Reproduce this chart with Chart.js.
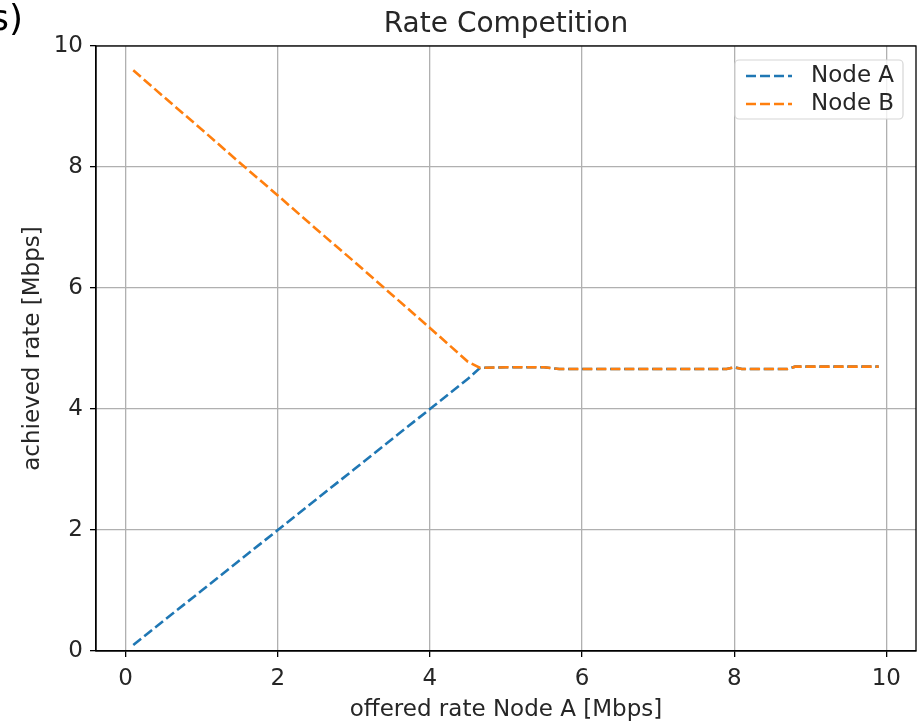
<!DOCTYPE html>
<html><head><meta charset="utf-8">
<script src="https://cdn.jsdelivr.net/npm/chart.js@4/dist/chart.umd.min.js"></script>
<style>html,body{margin:0;padding:0;background:#fff;overflow:hidden}</style>
</head><body>
<canvas id="c" width="921" height="725" style="width:921px;height:725px;display:block"></canvas>
<script>
const chartTitle = 'Rate Competition';
const xLabel = 'offered rate Node A [Mbps]';
const yLabel = 'achieved rate [Mbps]';
const cornerLabel = '(s)';
const seriesNames = ['Node A', 'Node B'];
const seriesColors = ['#1f77b4', '#ff7f0e'];
const offered = [0.1, 0.5, 1.0, 1.5, 2.0, 2.5, 3.0, 3.5, 4.0, 4.5, 4.66, 5.0, 5.5, 5.7, 6.0, 6.5, 7.0, 7.5, 7.9, 8.0, 8.1, 8.5, 8.7, 8.8, 9.0, 9.5, 9.9];
const nodeA = [0.1, 0.5, 1.0, 1.5, 2.0, 2.5, 3.0, 3.5, 4.0, 4.5, 4.68, 4.69, 4.69, 4.66, 4.66, 4.66, 4.66, 4.66, 4.66, 4.69, 4.66, 4.66, 4.66, 4.70, 4.70, 4.70, 4.70];
const nodeB = [9.60, 9.16, 8.62, 8.07, 7.53, 6.98, 6.44, 5.89, 5.34, 4.78, 4.68, 4.69, 4.69, 4.66, 4.66, 4.66, 4.66, 4.66, 4.66, 4.69, 4.66, 4.66, 4.66, 4.70, 4.70, 4.70, 4.70];
const xTicks = [0, 2, 4, 6, 8, 10];
const yTicks = [0, 2, 4, 6, 8, 10];
const xRange = [-0.39, 10.39];
const yRange = [0, 10];

const FONT = "'DejaVu Sans', sans-serif";
const TICK_SIZE = 23, LABEL_SIZE = 23, TITLE_SIZE = 28;

function pts(xs, ys) { return xs.map((x, i) => ({x: x, y: ys[i]})); }

const extras = {
  id: 'extras',
  afterDraw(chart) {
    const ctx = chart.ctx, a = chart.chartArea;
    ctx.save();
    ctx.strokeStyle = '#000'; ctx.lineWidth = 1.3;
    ctx.strokeRect(a.left, a.top, a.right - a.left, a.bottom - a.top);
    ctx.fillStyle = '#262626';
    ctx.font = TITLE_SIZE + 'px ' + FONT;
    ctx.textAlign = 'center'; ctx.textBaseline = 'alphabetic';
    ctx.fillText(chartTitle, (a.left + a.right) / 2, a.top - 14);
    ctx.fillStyle = '#000';
    ctx.font = '36px ' + FONT;
    ctx.textAlign = 'right';
    ctx.fillText(cornerLabel, 23, 30);
    const bw = 168, bh = 59;
    const bx = a.right - 13 - bw, by = a.top + 14;
    ctx.beginPath();
    ctx.roundRect(bx, by, bw, bh, 4);
    ctx.fillStyle = 'rgba(255,255,255,0.8)'; ctx.fill();
    ctx.strokeStyle = '#d6d6d6'; ctx.lineWidth = 1.2; ctx.stroke();
    ctx.font = LABEL_SIZE + 'px ' + FONT;
    ctx.textAlign = 'left'; ctx.textBaseline = 'middle';
    chart.data.datasets.forEach((ds, i) => {
      const yy = by + 16 + i * 28;
      ctx.beginPath();
      ctx.setLineDash(ds.borderDash);
      ctx.strokeStyle = ds.borderColor; ctx.lineWidth = ds.borderWidth;
      ctx.moveTo(bx + 11, yy); ctx.lineTo(bx + 57, yy); ctx.stroke();
      ctx.setLineDash([]);
      ctx.fillStyle = '#262626';
      ctx.fillText(ds.label, bx + 76, yy);
    });
    ctx.restore();
  }
};

new Chart(document.getElementById('c'), {
  type: 'line',
  data: {
    datasets: [
      {label: seriesNames[0], data: pts(offered, nodeA), borderColor: seriesColors[0], backgroundColor: seriesColors[0], borderWidth: 2.6, borderDash: [10, 4], pointRadius: 0, tension: 0, fill: false, order: 1},
      {label: seriesNames[1], data: pts(offered, nodeB), borderColor: seriesColors[1], backgroundColor: seriesColors[1], borderWidth: 2.6, borderDash: [10, 4], pointRadius: 0, tension: 0, fill: false, order: 0}
    ]
  },
  options: {
    responsive: false, animation: false, devicePixelRatio: 1,
    layout: {padding: {left: 0, right: 5, top: 46, bottom: 0}},
    plugins: {legend: {display: false}, title: {display: false}, tooltip: {enabled: false}},
    scales: {
      x: {
        type: 'linear', min: xRange[0], max: xRange[1],
        afterBuildTicks: ax => { ax.ticks = xTicks.map(v => ({value: v})); },
        afterFit: ax => { ax.height = 74; },
        grid: {color: '#b0b0b0', lineWidth: 1.3, tickColor: '#000', tickLength: 6, tickWidth: 1.3},
        border: {color: '#000', width: 1.3},
        ticks: {font: {family: FONT, size: TICK_SIZE}, color: '#262626', padding: 8, maxRotation: 0, callback: v => String(v)},
        title: {display: true, text: xLabel, font: {family: FONT, size: LABEL_SIZE}, color: '#262626', padding: {top: 0, bottom: 1}}
      },
      y: {
        type: 'linear', min: yRange[0], max: yRange[1],
        afterBuildTicks: ax => { ax.ticks = yTicks.map(v => ({value: v})); },
        afterFit: ax => { ax.width = 96; },
        grid: {color: '#b0b0b0', lineWidth: 1.3, tickColor: '#000', tickLength: 6, tickWidth: 1.3},
        border: {color: '#000', width: 1.3},
        ticks: {font: {family: FONT, size: TICK_SIZE}, color: '#262626', padding: 7, callback: v => String(v)},
        title: {display: true, text: yLabel, font: {family: FONT, size: LABEL_SIZE}, color: '#262626', padding: {top: 19, bottom: 0}}
      }
    }
  },
  plugins: [extras]
});
</script>
</body></html>
